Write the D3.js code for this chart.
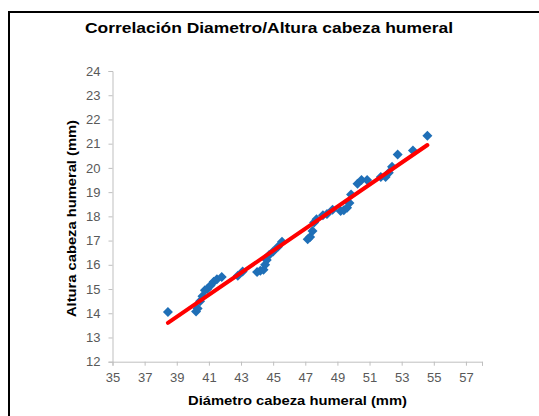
<!DOCTYPE html>
<html><head><meta charset="utf-8">
<script src="https://cdn.jsdelivr.net/npm/d3@7"></script>
<style>html,body{margin:0;padding:0;background:#fff;}svg{display:block;}</style>
</head><body>
<svg id="c" width="539" height="416"></svg>
<script>
const titleText = "Correlación Diametro/Altura cabeza humeral";
const xTitle = "Diámetro cabeza humeral (mm)";
const yTitle = "Altura cabeza humeral (mm)";
const xTicks = [35,37,39,41,43,45,47,49,51,53,55,57];
const yTicks = [12,13,14,15,16,17,18,19,20,21,22,23,24];
const diametro = [38.45,40.2,40.3,40.45,40.6,40.75,40.9,41.1,41.3,41.5,41.8,42.8,43.1,44.0,44.2,44.4,44.5,44.6,44.75,45.0,45.3,45.55,47.15,47.3,47.45,47.55,47.7,48.1,48.35,48.7,49.2,49.4,49.6,49.75,49.85,50.25,50.5,50.85,51.7,52.0,52.2,52.4,52.75,53.7,54.6];
const altura   = [14.05,14.07,14.2,14.5,14.7,14.95,15.0,15.15,15.3,15.4,15.5,15.55,15.72,15.7,15.75,15.8,16.0,16.2,16.4,16.55,16.75,16.95,17.05,17.15,17.4,17.75,17.88,18.05,18.1,18.27,18.22,18.25,18.35,18.55,18.9,19.35,19.5,19.5,19.62,19.62,19.8,20.05,20.55,20.72,21.33];

const svg = d3.select("#c");
// outer chart border
svg.append("rect").attr("x",9).attr("y",12).attr("width",620).attr("height",500)
  .attr("fill","#fff").attr("stroke","#000").attr("stroke-width",2);

const x = d3.scaleLinear().domain([35,58]).range([112.5,482]);
const y = d3.scaleLinear().domain([12,24]).range([361.7,71]);

const font = "'Liberation Sans', Arial, sans-serif";

// axes
const xAxis = d3.axisBottom(x).tickValues(xTicks.concat([58])).tickSize(4).tickFormat(d => xTicks.includes(d) ? d : "");
const gx = svg.append("g").attr("transform","translate(0,361.7)").call(xAxis);
const yAxis = d3.axisLeft(y).tickValues(yTicks).tickSize(4).tickPadding(8);
const gy = svg.append("g").attr("transform","translate(112.5,0)").call(yAxis);
[gx,gy].forEach(g=>{
  g.selectAll("path.domain").attr("stroke","#bfbfbf").attr("stroke-width",1);
  g.selectAll(".tick line").attr("stroke","#bfbfbf");
  g.selectAll("text").attr("fill","#595959").style("font-family",font).style("font-size","13px");
});
gx.selectAll("text").attr("dy","1.05em");

// points
const pts = diametro.map((d,i)=>({x:d,y:altura[i]}));
svg.append("g").selectAll("path").data(pts).join("path")
  .attr("transform",d=>`translate(${x(d.x)},${y(d.y)})`)
  .attr("d","M0,-5L5,0L0,5L-5,0Z")
  .attr("fill","#1f6fb7");

// linear trendline (least squares)
const mx = d3.mean(diametro), my = d3.mean(altura);
const slope = d3.sum(pts,p=>(p.x-mx)*(p.y-my))/d3.sum(pts,p=>(p.x-mx)**2);
const icpt = my - slope*mx;
const [x0,x1] = d3.extent(diametro);
svg.append("line")
  .attr("x1",x(x0)).attr("y1",y(icpt+slope*x0))
  .attr("x2",x(x1)).attr("y2",y(icpt+slope*x1))
  .attr("stroke","#ff0000").attr("stroke-width",4).attr("stroke-linecap","round");

// titles
svg.append("text").attr("x",85).attr("y",33).text(titleText)
  .style("font-family",font).style("font-weight","bold").style("font-size","15px")
  .attr("textLength",368).attr("lengthAdjust","spacingAndGlyphs").attr("fill","#000");
svg.append("text").attr("x",188).attr("y",405).text(xTitle)
  .style("font-family",font).style("font-weight","bold").style("font-size","13px")
  .attr("textLength",219).attr("lengthAdjust","spacingAndGlyphs").attr("fill","#000");
svg.append("text").attr("transform","translate(76,317) rotate(-90)").text(yTitle)
  .style("font-family",font).style("font-weight","bold").style("font-size","13px")
  .attr("textLength",197).attr("lengthAdjust","spacingAndGlyphs").attr("fill","#000");
</script>
</body></html>
